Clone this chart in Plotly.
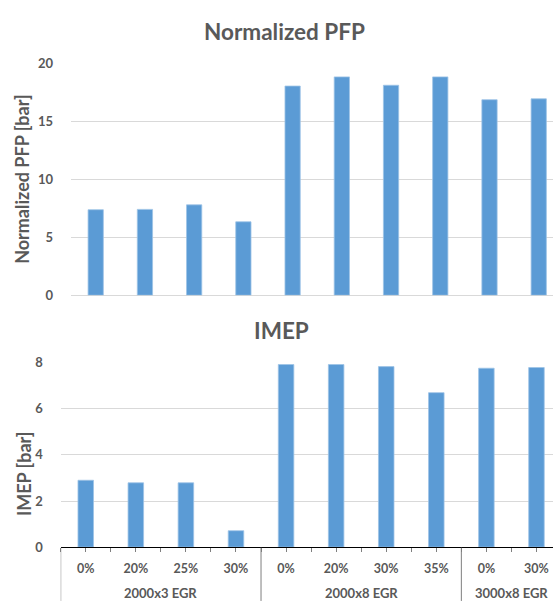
import plotly.graph_objects as go

# data
groups = ["2000x3 EGR"] * 4 + ["2000x8 EGR"] * 4 + ["3000x8 EGR"] * 2
egr_rates = ["0%", "20%", "25%", "30%", "0%", "20%", "30%", "35%", "0%", "30%"]
pfp_values = [7.37, 7.40, 7.79, 6.33, 18.03, 18.82, 18.10, 18.82, 16.85, 16.93]
imep_values = [2.90, 2.79, 2.79, 0.71, 7.92, 7.92, 7.83, 6.70, 7.76, 7.79]
pfp_ticks = [0, 5, 10, 15, 20]
imep_ticks = [0, 2, 4, 6, 8]

W, H = 553, 607
font_name = "Lato"
text_grey = "#595959"
bar_blue = "#5B9BD5"
grid_grey = "#D9D9D9"

x_idx = list(range(len(egr_rates)))
boundaries = [i - 0.5 for i in range(len(egr_rates) + 1)]

# group spans -> label centres and divider positions
group_names = []
group_spans = []
for i, g in enumerate(groups):
    if not group_names or group_names[-1] != g:
        group_names.append(g)
        group_spans.append([i, i])
    else:
        group_spans[-1][1] = i
group_centres = [(a + b) / 2 for a, b in group_spans]
group_edges = [a - 0.5 for a, b in group_spans]


def py(pix):
    # pixel row -> paper fraction
    return 1 - pix / H


bar_marker = dict(color=bar_blue, line=dict(color="#9DC3E6", width=0.8))

fig = go.Figure()
fig.add_trace(go.Bar(x=x_idx, y=pfp_values, xaxis="x", yaxis="y",
                     marker=bar_marker, width=0.31, showlegend=False,
                     hoverinfo="skip"))
fig.add_trace(go.Bar(x=x_idx, y=imep_values, xaxis="x2", yaxis="y2",
                     marker=bar_marker, width=0.31, showlegend=False,
                     hoverinfo="skip"))

tick_font = dict(size=13, family=font_name, color=text_grey, weight="bold")

fig.update_layout(
    width=W,
    height=H,
    margin=dict(l=0, r=0, t=0, b=0),
    paper_bgcolor="white",
    plot_bgcolor="white",
    font=dict(family=font_name, color=text_grey),
    xaxis=dict(
        domain=[71.1 / W, 1],
        range=[-0.5, 9.29],
        anchor="y",
        showticklabels=False,
        showline=False,
        ticks="",
        showgrid=False,
        zeroline=False,
    ),
    yaxis=dict(
        domain=[py(295), py(56.7)],
        range=[0, 20],
        tickvals=pfp_ticks,
        showgrid=True,
        gridcolor=grid_grey,
        gridwidth=1,
        zeroline=True,
        zerolinecolor=grid_grey,
        zerolinewidth=1,
        showline=False,
        ticks="",
        ticklabelstandoff=17,
        tickfont=tick_font,
        anchor="x",
    ),
    xaxis2=dict(
        domain=[60.7 / W, 1],
        range=[-0.5, 9.33],
        anchor="y2",
        tickvals=x_idx,
        ticktext=egr_rates,
        showline=True,
        linecolor="#000000",
        linewidth=1,
        ticks="outside",
        ticklen=4,
        tickwidth=1,
        tickcolor="#7F7F7F",
        minor=dict(tickvals=boundaries, ticks="outside", ticklen=4,
                   tickwidth=1, tickcolor="#7F7F7F", showgrid=False),
        ticklabelstandoff=6,
        showgrid=False,
        zeroline=False,
        tickfont=dict(size=12.5, family=font_name, color=text_grey, weight="bold"),
        automargin=False,
    ),
    yaxis2=dict(
        domain=[py(553.7), py(364.3)],
        range=[0, 8],
        tickvals=imep_ticks,
        showgrid=True,
        gridcolor=grid_grey,
        gridwidth=1,
        zeroline=False,
        showline=False,
        ticks="",
        ticklabelstandoff=17,
        tickfont=tick_font,
        anchor="x2",
    ),
    bargap=0.69,
    hovermode=False,
)

# group dividers below the IMEP category axis
for e in group_edges:
    fig.add_shape(type="line", xref="x2", yref="paper", x0=e, x1=e,
                  y0=py(554.3), y1=py(H + 2),
                  line=dict(color="#7F7F7F", width=1))

# group labels under the category labels
for name, c in zip(group_names, group_centres):
    fig.add_annotation(text=name, x=c, y=py(600.5), xref="x2", yref="paper",
                       xanchor="center", yanchor="middle", showarrow=False,
                       font=dict(size=13, family=font_name, color=text_grey,
                                 weight="bold"))

titles = [
    dict(text="Normalized PFP", x=284 / W, y=py(24), size=22.5, angle=0),
    dict(text="IMEP", x=281 / W, y=py(331), size=22.5, angle=0),
    dict(text="Normalized PFP [bar]", x=21.7 / W, y=py(175.8), size=18, angle=-90),
    dict(text="IMEP [bar]", x=24.7 / W, y=py(478), size=18, angle=-90),
]
for t in titles:
    fig.add_annotation(
        text=t["text"], x=t["x"], y=t["y"], xref="paper", yref="paper",
        xanchor="center", yanchor="middle", showarrow=False,
        textangle=t["angle"],
        font=dict(size=t["size"], family=font_name, color=text_grey, weight="bold"),
    )

fig.write_html(
    "out.html",
    config={"displayModeBar": False},
    post_script="document.body.style.margin='0';document.body.style.overflow='hidden';",
)
